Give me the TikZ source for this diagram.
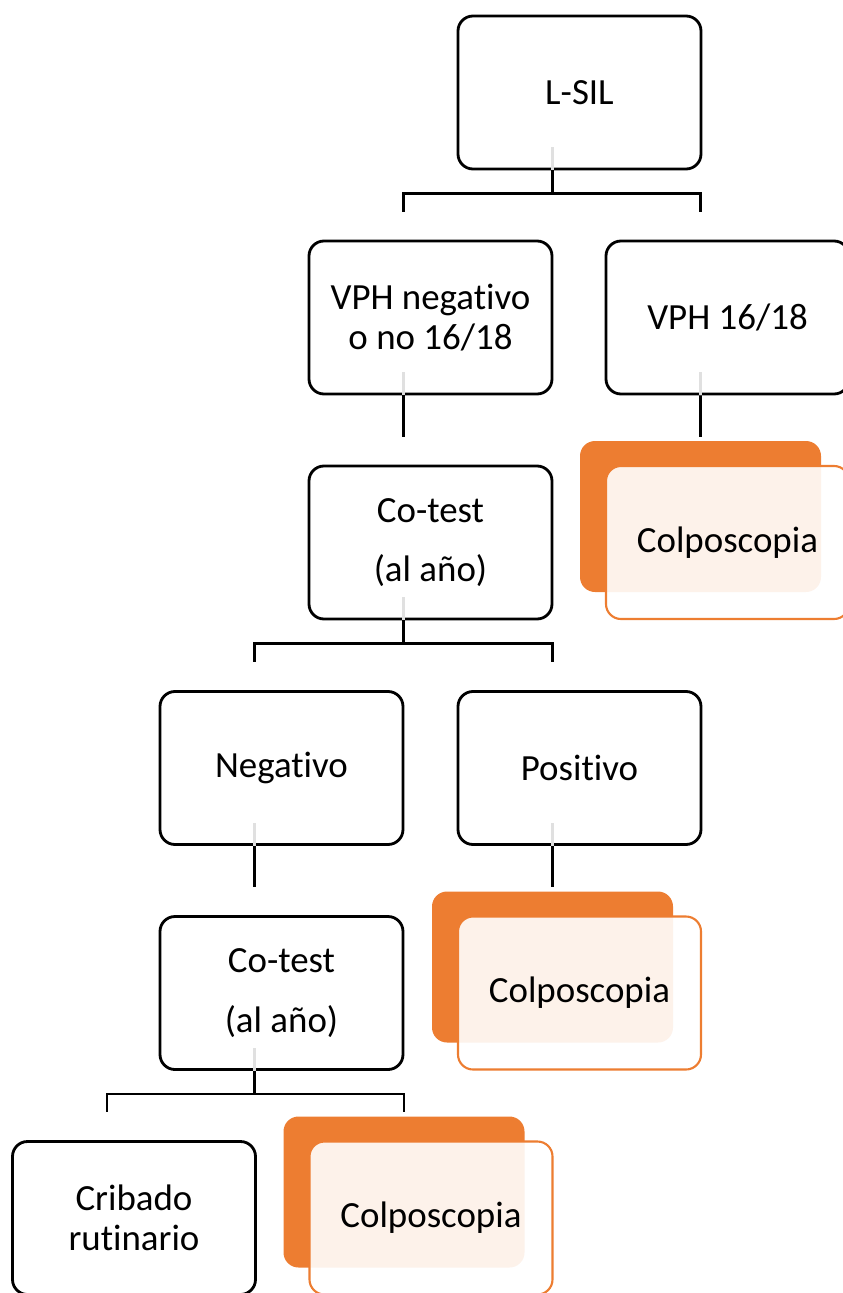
\documentclass[tikz,border=0pt]{standalone}
\usepackage{fontspec}
\setmainfont{Carlito}[Ligatures={NoCommon,NoContextual}]
\usepackage{tikz}
\definecolor{naranja}{HTML}{ED7D31}
% corta la ligadura "ti" de Carlito
\newcommand{\tsep}{t\kern0pt}

\tikzset{
  caja/.style={draw=black, line width=1.6pt, rounded corners=0.3cm, fill=white,
    minimum width=4.86cm, minimum height=3.06cm, align=center,
    font=\fontsize{21}{23}\selectfont},
  fondo/.style={fill=naranja, rounded corners=0.3cm,
    minimum width=4.82cm, minimum height=3.02cm},
  frente/.style={draw=naranja, line width=1.2pt, rounded corners=0.3cm,
    fill=white, fill opacity=0.9, text opacity=1,
    minimum width=4.86cm, minimum height=3.06cm, align=center,
    font=\fontsize{21}{23}\selectfont},
  conn/.style={black, line width=1.6pt},
  ghost/.style={black!12, line width=1.2pt}
}

\begin{document}
\begin{tikzpicture}
\useasboundingbox (0,0) rectangle (16.86,-25.86);

% cajas blancas
\node[caja] (lsil) at (11.59,-1.85) {L-SIL};
\node[caja] (vphneg) at (8.61,-6.35) {VPH nega\tsep{}ivo\\o no 16/18};
\node[caja] (vph16) at (14.55,-6.35) {VPH 16/18};
\node[caja] (cotest1) at (8.61,-10.85) {Co-test\\[11pt](al año)};
\node[caja] (neg) at (5.63,-15.36) {Nega\tsep{}ivo};
\node[caja] (pos) at (11.59,-15.36) {Positivo};
\node[caja] (cotest2) at (5.63,-19.86) {Co-test\\[11pt](al año)};
\node[caja] (cribado) at (2.68,-24.36) {Cribado\\ru\tsep{}inario};

% colposcopias
\node[fondo] (colpo1b) at (14.01,-10.33) {};
\node[frente] (colpo1) at ([xshift=0.54cm,yshift=-0.52cm]colpo1b.center) {Colposcopia};
\node[fondo] (colpo2b) at (11.05,-19.34) {};
\node[frente] (colpo2) at ([xshift=0.54cm,yshift=-0.52cm]colpo2b.center) {Colposcopia};
\node[fondo] (colpo3b) at (8.08,-23.84) {};
\node[frente] (colpo3) at ([xshift=0.54cm,yshift=-0.52cm]colpo3b.center) {Colposcopia};

% trazos grises
\foreach \n in {lsil,vphneg,vph16,cotest1,neg,pos,cotest2}
  \draw[ghost] ([xshift=-0.54cm]\n.south) -- ++(0,0.46);

% conectores
\draw[conn] ([xshift=-0.54cm]lsil.south) -- ++(0,-0.46) -| ([xshift=-0.54cm,yshift=0.56cm]vphneg.north);
\draw[conn] ([xshift=-0.54cm]lsil.south) -- ++(0,-0.46) -| ([xshift=-0.54cm,yshift=0.56cm]vph16.north);
\draw[conn] ([xshift=-0.54cm]vphneg.south) -- ([xshift=-0.54cm,yshift=0.56cm]cotest1.north);
\draw[conn] ([xshift=-0.54cm]vph16.south) -- ([xshift=-0.54cm,yshift=0.56cm]colpo1.north);
\draw[conn] ([xshift=-0.54cm]cotest1.south) -- ++(0,-0.46) -| ([xshift=-0.54cm,yshift=0.56cm]neg.north);
\draw[conn] ([xshift=-0.54cm]cotest1.south) -- ++(0,-0.46) -| ([xshift=-0.54cm,yshift=0.56cm]pos.north);
\draw[conn] ([xshift=-0.54cm]neg.south) -- ([xshift=-0.54cm,yshift=0.56cm]cotest2.north);
\draw[conn] ([xshift=-0.54cm]pos.south) -- ([xshift=-0.54cm,yshift=0.56cm]colpo2.north);
\draw[conn] ([xshift=-0.54cm]cotest2.south) -- ++(0,-0.46) -| ([xshift=-0.54cm,yshift=0.56cm]cribado.north);
\draw[conn] ([xshift=-0.54cm]cotest2.south) -- ++(0,-0.46) -| ([xshift=-0.54cm,yshift=0.56cm]colpo3.north);

\end{tikzpicture}
\end{document}
